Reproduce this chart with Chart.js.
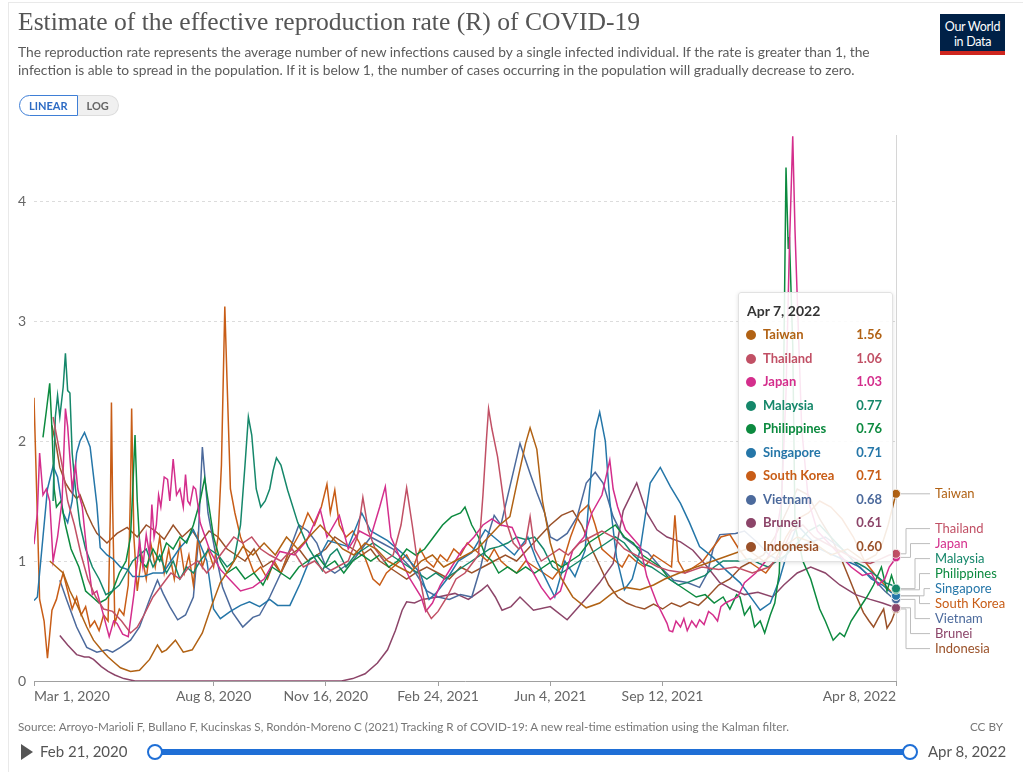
<!DOCTYPE html>
<html><head><meta charset="utf-8">
<script src="https://cdn.jsdelivr.net/npm/chart.js@4.4.1/dist/chart.umd.min.js"></script>
<style>
html,body{margin:0;padding:0;background:#fff;}
body{width:1023px;height:772px;position:relative;overflow:hidden;font-family:Lato,"Noto Sans",sans-serif;}
#frame{position:absolute;left:8px;top:2px;width:1040px;height:800px;border:1px solid #e9e9e9;}
#c{position:absolute;left:0;top:0;}
.title{position:absolute;left:18px;top:7px;font-family:"Liberation Serif",serif;font-size:25.6px;color:#555;white-space:nowrap;}
.sub{position:absolute;left:18px;top:43px;font-size:13.8px;line-height:18px;color:#5b5b5b;width:880px;}
.toggle{position:absolute;left:19px;top:95px;height:21px;display:flex;font-size:11px;font-weight:bold;}
.lin{border:1px solid #3f7fd6;border-radius:11px 0 0 11px;color:#2d6bc4;padding:0 9px;line-height:19px;background:#fff;}
.log{border:1px solid #ddd;border-left:none;border-radius:0 11px 11px 0;background:#f0f0f0;color:#666;padding:0 9px;line-height:19px;}
.logo{position:absolute;left:940px;top:14px;width:65px;height:41px;background:#002147;color:#fff;text-align:center;font-size:12.5px;line-height:15px;padding-top:5px;box-sizing:border-box;border-bottom:4px solid #ce261e;letter-spacing:-0.3px;}
.src{position:absolute;left:18px;top:719px;font-size:11.7px;color:#777;white-space:nowrap;}
.cc{position:absolute;right:20px;top:719px;font-size:11.7px;color:#777;}
.play{position:absolute;left:21px;top:744px;width:0;height:0;border-left:12px solid #555;border-top:8px solid transparent;border-bottom:8px solid transparent;}
.tl{position:absolute;top:742px;font-size:15px;color:#555;white-space:nowrap;}
.track{position:absolute;left:155px;top:749px;width:755px;height:6px;background:#1f6fd6;border-radius:3px;}
.handle{position:absolute;top:744px;width:16px;height:16px;box-sizing:border-box;border:2px solid #1f6fd6;background:#fff;border-radius:50%;}
#tip{position:absolute;left:738px;top:292px;width:155px;height:270px;box-sizing:border-box;background:rgba(255,255,255,0.88);border:1px solid #e2e2e2;border-radius:3px;box-shadow:0 1px 4px rgba(0,0,0,0.12);}
#tip .hd{position:absolute;left:8px;top:9px;font-size:14px;font-weight:bold;color:#333;}
#tip .row{position:absolute;left:0;width:100%;height:20px;font-size:13px;font-weight:bold;}
#tip .dot{position:absolute;left:7px;top:5px;width:10px;height:10px;border-radius:50%;}
#tip .nm{position:absolute;left:24px;top:1px;}
#tip .vl{position:absolute;right:10px;top:1px;}
</style></head>
<body>
<div id="frame"></div>
<canvas id="c" width="1023" height="772"></canvas>
<div class="title">Estimate of the effective reproduction rate (R) of COVID-19</div>
<div class="sub">The reproduction rate represents the average number of new infections caused by a single infected individual. If the rate is greater than 1, the infection is able to spread in the population. If it is below 1, the number of cases occurring in the population will gradually decrease to zero.</div>
<div class="toggle"><span class="lin">LINEAR</span><span class="log">LOG</span></div>
<div class="logo">Our World<br>in Data</div>
<div class="src">Source: Arroyo-Marioli F, Bullano F, Kucinskas S, Rondón-Moreno C (2021) Tracking R of COVID-19: A new real-time estimation using the Kalman filter.</div>
<div class="cc">CC BY</div>
<div class="play"></div>
<div class="tl" style="left:40px">Feb 21, 2020</div>
<div class="track"></div>
<div class="handle" style="left:147px"></div>
<div class="handle" style="left:902px"></div>
<div class="tl" style="left:928px">Apr 8, 2022</div>
<div id="tip"></div>
<script>
// Days counted from Mar 1, 2020
const xTickDays = [0, 160, 260, 360, 460, 560, 768];
const xTickLabels = ["Mar 1, 2020", "Aug 8, 2020", "Nov 16, 2020", "Feb 24, 2021", "Jun 4, 2021", "Sep 12, 2021", "Apr 8, 2022"];
const yTicks = [0, 1, 2, 3, 4];
const tooltipDate = "Apr 7, 2022";
const countries = ["Taiwan", "Thailand", "Japan", "Malaysia", "Philippines", "Singapore", "South Korea", "Vietnam", "Brunei", "Indonesia"];

const taiwan = [[14,1.0],[20,0.95],[26,0.9],[32,0.75],[39,0.62],[47,0.45],[53,0.34],[60,0.26],[66,0.2],[72,0.15],[77,0.11],[86,0.08],[94,0.09],[103,0.18],[110,0.3],[114,0.24],[118,0.26],[126,0.34],[133,0.24],[141,0.26],[150,0.4],[158,0.62],[166,0.82],[175,0.95],[186,1.12],[195,1.05],[205,1.15],[215,1.05],[225,1.2],[235,1.1],[245,1.2],[255,1.3],[265,1.2],[275,1.1],[285,1.05],[295,1.15],[305,1.1],[315,1.0],[325,0.95],[335,0.9],[345,1.0],[355,1.05],[365,0.95],[375,1.0],[385,1.05],[395,1.1],[405,1.2],[415,1.3],[424,1.37],[431,1.68],[438,1.98],[442,2.11],[448,1.93],[453,1.5],[460,1.15],[469,0.87],[480,0.7],[492,0.61],[504,0.65],[515,0.73],[527,0.78],[540,0.76],[552,0.8],[562,0.85],[575,0.9],[590,0.95],[605,1.0],[620,1.05],[635,1.1],[650,1.0],[665,1.1],[680,1.2],[695,1.15],[710,1.05],[725,1.1],[740,1.0],[750,1.05],[756,1.15],[761,1.3],[765,1.45],[768,1.56]];
const thailand = [[17,2.2],[20,2.05],[25,1.8],[30,1.5],[36,1.3],[42,1.05],[48,0.85],[55,0.7],[62,0.6],[70,0.58],[78,0.5],[86,0.4],[92,0.45],[98,0.55],[106,0.7],[114,0.8],[122,0.9],[130,0.85],[138,0.95],[146,1.0],[154,0.9],[162,1.0],[170,1.1],[178,1.2],[186,1.15],[194,1.2],[202,1.1],[210,1.05],[220,1.0],[230,1.1],[240,0.95],[250,1.0],[260,0.9],[270,0.95],[280,1.0],[288,1.2],[293,1.53],[298,1.25],[304,1.1],[312,1.0],[320,1.05],[327,1.3],[332,1.61],[337,1.3],[343,0.9],[349,0.6],[354,0.52],[360,0.58],[368,0.7],[376,0.85],[384,0.9],[392,1.0],[396,1.05],[400,1.55],[403,2.0],[405,2.27],[408,2.1],[413,1.87],[418,1.53],[421,1.32],[427,1.15],[432,1.1],[438,1.15],[442,1.37],[446,1.1],[452,1.0],[460,1.05],[468,1.1],[476,1.05],[486,1.15],[496,1.2],[506,1.25],[516,1.2],[526,1.1],[536,1.05],[546,1.0],[556,0.95],[566,0.92],[580,0.9],[595,0.95],[610,0.93],[625,0.95],[640,0.9],[655,0.95],[665,1.05],[675,1.25],[685,1.3],[695,1.2],[705,1.15],[715,1.1],[725,1.05],[735,1.0],[745,0.98],[755,1.02],[762,1.05],[768,1.06]];
const japan = [[0,1.14],[3,1.4],[5,1.9],[8,1.55],[11,1.6],[14,1.5],[17,1.0],[21,1.2],[25,1.5],[28,2.27],[30,2.12],[34,1.6],[37,1.8],[39,1.6],[43,1.45],[47,1.08],[52,0.72],[56,0.75],[61,0.58],[67,0.37],[71,0.5],[74,0.48],[79,0.39],[84,0.37],[89,0.72],[94,1.17],[97,0.95],[100,1.22],[103,1.05],[105,1.47],[107,1.2],[109,1.3],[111,1.55],[113,1.45],[116,1.7],[119,1.68],[121,1.5],[124,1.85],[127,1.55],[130,1.6],[133,1.45],[135,1.72],[137,1.5],[139,1.47],[142,1.62],[144,1.6],[146,1.47],[148,1.32],[157,1.08],[166,0.93],[175,0.84],[184,0.75],[195,0.78],[205,0.85],[219,1.08],[232,1.05],[243,1.17],[255,1.43],[261,1.2],[272,1.38],[280,1.1],[290,1.25],[300,1.2],[308,1.45],[313,1.62],[318,1.2],[325,1.05],[335,0.85],[345,0.7],[349,0.58],[355,0.65],[362,0.8],[372,0.95],[382,1.1],[392,1.2],[400,1.3],[408,1.35],[416,1.3],[426,1.28],[440,0.98],[452,0.78],[460,0.68],[469,0.75],[480,1.09],[490,1.2],[497,1.4],[506,1.55],[513,1.84],[516,1.6],[520,1.45],[527,1.26],[540,1.12],[546,0.87],[555,0.65],[564,0.48],[566,0.42],[569,0.41],[572,0.5],[576,0.45],[579,0.52],[582,0.42],[586,0.5],[590,0.45],[593,0.51],[597,0.47],[601,0.58],[605,0.55],[609,0.5],[612,0.62],[616,0.65],[627,0.7],[633,0.82],[643,0.9],[652,1.0],[660,1.15],[666,1.5],[670,2.4],[673,3.6],[676,4.54],[678,3.76],[680,3.2],[684,2.1],[690,1.5],[698,1.25],[708,1.15],[718,1.05],[728,0.95],[738,0.88],[746,0.9],[752,0.8],[758,0.85],[762,0.95],[766,1.0],[768,1.03]];
const malaysia = [[17,1.5],[19,2.2],[21,2.38],[23,2.2],[26,2.45],[28,2.73],[30,2.42],[32,2.4],[34,1.9],[37,1.6],[41,1.3],[46,1.1],[52,0.95],[58,0.85],[64,0.72],[70,0.75],[76,0.8],[82,0.9],[88,1.0],[94,1.05],[100,1.1],[106,0.95],[112,1.05],[118,0.9],[124,1.0],[130,0.85],[136,0.95],[142,0.9],[148,1.0],[156,1.1],[164,1.05],[172,0.95],[178,1.0],[184,1.3],[188,1.8],[191,2.2],[194,2.05],[198,1.6],[202,1.45],[206,1.5],[210,1.6],[213,1.75],[216,1.86],[220,1.8],[226,1.59],[235,1.32],[244,1.12],[257,0.92],[264,1.05],[270,1.1],[278,0.95],[286,1.05],[294,1.1],[302,1.15],[310,1.1],[318,1.05],[326,1.0],[334,0.95],[342,0.9],[350,0.85],[358,0.9],[366,0.85],[374,0.9],[382,0.95],[390,1.0],[398,1.05],[406,1.1],[414,1.12],[422,1.15],[430,1.2],[438,1.18],[446,1.2],[454,1.1],[462,0.95],[470,0.9],[478,0.95],[486,1.0],[494,1.05],[502,1.1],[510,1.15],[518,1.2],[526,1.15],[534,1.05],[542,0.98],[550,0.95],[558,0.9],[566,0.85],[574,0.8],[582,0.82],[590,0.85],[598,0.88],[606,0.95],[614,1.0],[622,1.0],[630,1.0],[638,1.02],[646,0.98],[654,0.95],[662,1.0],[670,1.05],[680,1.15],[690,1.25],[700,1.3],[710,1.2],[720,1.1],[730,1.0],[740,0.95],[750,0.88],[758,0.82],[764,0.8],[768,0.77]];
const philippines = [[8,2.03],[11,2.25],[14,2.48],[16,2.1],[18,1.6],[20,1.45],[24,1.5],[28,1.3],[33,1.1],[40,0.95],[46,0.75],[52,0.7],[58,0.65],[64,0.68],[70,0.75],[76,0.9],[82,1.0],[86,1.2],[88,1.6],[90,2.05],[92,1.5],[95,1.0],[100,0.95],[106,1.1],[112,1.0],[118,1.15],[124,1.1],[130,1.2],[136,1.15],[142,1.3],[148,1.5],[152,1.69],[156,1.45],[160,1.2],[166,1.0],[172,0.9],[180,0.95],[188,0.85],[196,0.9],[204,0.8],[212,0.95],[220,0.9],[228,0.85],[236,0.95],[244,1.0],[252,1.05],[260,0.95],[268,1.0],[276,0.9],[284,1.0],[292,1.05],[300,1.0],[308,1.05],[316,0.95],[324,1.0],[332,1.1],[340,1.05],[348,1.1],[356,1.2],[364,1.3],[372,1.37],[380,1.4],[384,1.45],[390,1.3],[396,1.2],[402,1.05],[408,1.0],[414,0.9],[422,0.95],[430,0.9],[438,0.95],[446,0.9],[454,0.95],[462,1.0],[470,0.95],[478,1.0],[486,1.05],[494,1.15],[502,1.2],[510,1.25],[518,1.3],[526,1.2],[534,1.15],[542,1.05],[550,1.0],[558,0.95],[566,0.85],[574,0.8],[582,0.75],[590,0.7],[598,0.72],[606,0.65],[614,0.7],[620,0.6],[626,0.72],[629,0.7],[633,0.55],[638,0.62],[642,0.45],[647,0.5],[651,0.4],[656,0.55],[660,0.65],[664,0.9],[667,1.8],[670,4.28],[672,3.6],[673,3.7],[676,2.8],[678,1.3],[685,1.0],[692,0.85],[700,0.6],[705,0.5],[712,0.34],[718,0.4],[722,0.37],[728,0.5],[735,0.6],[742,0.7],[748,0.8],[755,0.95],[760,0.75],[764,0.88],[768,0.76]];
const singapore = [[0,0.67],[3,0.7],[8,1.2],[12,1.6],[17,1.79],[21,1.7],[26,1.4],[30,1.32],[34,1.5],[38,1.9],[41,2.0],[45,2.07],[50,1.95],[56,1.47],[59,1.11],[65,1.05],[70,1.02],[77,0.95],[83,0.93],[88,0.87],[97,0.87],[106,0.9],[115,0.9],[122,1.0],[130,1.11],[136,1.17],[142,1.26],[148,1.14],[154,1.0],[160,0.6],[166,0.52],[175,0.58],[184,0.63],[192,0.66],[201,0.62],[210,0.68],[217,0.63],[228,0.63],[237,0.81],[246,1.02],[255,1.05],[262,1.17],[280,1.12],[292,1.4],[300,1.25],[315,1.17],[330,1.05],[344,0.9],[352,0.68],[358,0.73],[368,0.85],[378,1.0],[390,1.07],[402,1.26],[416,1.15],[428,1.05],[440,1.2],[448,1.0],[455,0.87],[464,0.7],[473,1.0],[482,0.87],[491,1.09],[495,1.59],[500,2.09],[504,2.24],[509,2.0],[513,1.5],[519,1.03],[526,0.76],[533,0.85],[540,1.09],[545,1.4],[549,1.65],[558,1.78],[567,1.62],[576,1.48],[584,1.32],[593,1.12],[605,1.03],[617,0.92],[629,0.82],[640,0.68],[647,0.59],[656,0.65],[664,0.84],[672,1.1],[680,1.3],[690,1.2],[700,1.1],[712,1.05],[724,1.0],[736,0.95],[746,0.85],[756,0.8],[762,0.75],[768,0.71]];
const southKorea = [[0,2.36],[3,1.37],[5,0.68],[9,0.5],[12,0.19],[16,0.59],[20,0.68],[23,0.8],[26,0.9],[30,0.75],[34,0.6],[38,0.7],[42,0.55],[46,0.62],[50,0.45],[54,0.5],[58,0.42],[62,0.55],[66,0.5],[68,1.4],[69,2.32],[70,1.5],[72,0.48],[76,0.6],[80,0.55],[84,0.8],[86,1.6],[87,2.27],[89,1.2],[92,0.75],[96,1.05],[100,0.85],[104,1.15],[108,0.95],[112,1.2],[116,0.9],[120,1.1],[125,0.85],[130,1.15],[134,0.9],[138,1.05],[142,0.8],[146,1.2],[150,0.95],[155,1.1],[160,0.95],[164,1.2],[167,1.8],[170,3.12],[172,2.5],[175,1.6],[179,1.4],[184,1.2],[190,1.05],[196,0.9],[202,0.95],[208,0.85],[214,1.0],[220,0.9],[226,1.05],[232,1.15],[238,1.25],[244,1.4],[250,1.3],[256,1.45],[261,1.64],[264,1.4],[268,1.59],[272,1.3],[278,1.2],[284,1.25],[290,1.15],[296,1.0],[302,0.85],[308,0.8],[314,0.9],[320,0.95],[326,1.0],[332,1.05],[338,0.95],[344,1.1],[350,1.0],[356,0.95],[362,1.05],[368,1.0],[374,1.1],[380,1.05],[386,1.15],[392,1.1],[398,1.05],[404,1.0],[410,1.1],[416,1.0],[422,0.95],[430,0.9],[438,1.0],[446,0.95],[454,0.9],[462,0.85],[470,0.95],[478,1.2],[486,1.4],[494,1.47],[500,1.3],[506,1.1],[512,1.05],[518,1.0],[524,0.95],[530,1.05],[536,1.0],[544,0.95],[552,1.05],[560,1.0],[568,0.95],[571,1.38],[574,1.0],[580,0.9],[588,0.95],[596,1.0],[604,1.1],[612,1.2],[620,1.22],[628,1.1],[636,1.0],[644,0.95],[652,0.9],[660,1.0],[670,1.2],[680,1.35],[690,1.4],[700,1.5],[710,1.45],[720,1.35],[730,1.2],[740,1.0],[750,0.88],[758,0.8],[764,0.74],[768,0.71]];
const vietnam = [[23,0.84],[29,0.68],[38,0.45],[47,0.28],[56,0.24],[65,0.26],[70,0.24],[77,0.28],[86,0.34],[94,0.45],[103,0.68],[110,0.84],[115,0.73],[121,0.62],[128,0.51],[135,0.55],[142,0.7],[146,1.12],[150,1.95],[155,1.4],[161,1.1],[168,0.78],[177,0.57],[186,0.45],[195,0.53],[201,0.55],[210,0.7],[220,0.9],[228,1.1],[236,1.3],[244,1.25],[252,1.15],[260,0.95],[268,0.9],[276,0.95],[284,1.0],[292,1.1],[300,1.2],[310,1.15],[320,1.1],[330,1.0],[340,0.9],[350,0.75],[360,0.7],[370,0.68],[380,0.72],[390,0.7],[398,0.95],[404,1.2],[410,1.38],[416,1.3],[424,1.62],[433,1.98],[442,1.73],[448,1.57],[455,1.4],[460,1.2],[466,1.17],[475,1.23],[484,1.37],[492,1.65],[500,1.74],[507,1.65],[516,1.37],[525,1.2],[535,1.13],[547,1.07],[558,0.95],[570,0.84],[582,0.82],[593,0.78],[600,0.9],[605,1.1],[611,1.22],[625,1.23],[633,1.25],[645,1.15],[655,1.05],[665,1.0],[675,1.1],[690,1.15],[705,1.2],[720,1.1],[735,0.95],[748,0.85],[758,0.75],[764,0.7],[768,0.68]];
const brunei = [[23,0.38],[30,0.3],[38,0.22],[45,0.2],[49,0.2],[53,0.18],[60,0.12],[66,0.08],[72,0.05],[80,0.02],[90,0.0],[274,0.0],[284,0.02],[295,0.06],[306,0.15],[315,0.26],[322,0.42],[328,0.59],[332,0.66],[339,0.65],[346,0.68],[360,0.7],[375,0.73],[387,0.68],[399,0.76],[404,0.8],[411,0.7],[417,0.59],[425,0.62],[433,0.7],[445,0.59],[460,0.62],[475,0.51],[493,0.7],[504,0.82],[516,0.98],[525,1.42],[537,1.65],[546,1.4],[555,1.26],[564,1.2],[576,1.16],[587,1.09],[600,0.95],[611,0.82],[623,0.76],[633,0.72],[645,0.74],[658,0.7],[668,0.8],[680,0.9],[692,0.95],[705,0.9],[718,0.8],[732,0.72],[745,0.68],[756,0.65],[768,0.61]];
const indonesia = [[16,2.13],[20,1.95],[23,1.78],[28,1.65],[32,1.59],[38,1.52],[41,1.55],[47,1.4],[52,1.3],[56,1.23],[65,1.15],[74,1.23],[83,1.28],[92,1.2],[100,1.3],[108,1.25],[116,1.18],[124,1.3],[132,1.2],[140,1.27],[148,1.15],[156,1.25],[164,1.2],[172,1.1],[180,1.05],[188,1.0],[196,1.1],[204,0.95],[212,1.0],[220,0.9],[228,1.05],[236,1.1],[244,1.0],[252,1.05],[260,1.1],[268,1.2],[276,1.15],[284,1.1],[292,1.05],[300,1.1],[308,1.0],[316,0.95],[324,0.9],[332,0.85],[340,0.9],[350,0.95],[360,0.9],[370,0.85],[380,0.95],[390,0.9],[400,0.95],[410,1.0],[420,1.05],[430,1.0],[440,1.1],[450,1.2],[460,1.3],[470,1.38],[480,1.42],[488,1.3],[496,1.12],[504,0.96],[512,0.8],[520,0.7],[528,0.65],[536,0.62],[544,0.6],[552,0.64],[560,0.6],[568,0.65],[576,0.62],[584,0.66],[592,0.63],[600,0.7],[610,0.8],[620,0.85],[630,0.95],[640,1.0],[650,1.05],[660,1.2],[670,1.4],[680,1.6],[690,1.55],[700,1.35],[710,1.2],[720,1.0],[727,0.84],[733,0.7],[739,0.57],[744,0.5],[748,0.45],[752,0.52],[757,0.6],[760,0.44],[764,0.5],[768,0.6]];

const seriesData = [taiwan, thailand, japan, malaysia, philippines, singapore, southKorea, vietnam, brunei, indonesia];
const seriesColors = ["#B16214", "#C15065", "#D42E8C", "#15876A", "#0C8A3F", "#2576A8", "#C85D17", "#4C6A9C", "#8C4569", "#9A5129"];

const endDay = xTickDays[xTickDays.length - 1];

const overlay = {
  id: 'overlay',
  beforeDatasetsDraw(chart) {
    const {ctx, chartArea, scales: {x}} = chart;
    ctx.save();
    const xe = Math.round(x.getPixelForValue(endDay)) + 0.5;
    ctx.strokeStyle = '#d6d6d6'; ctx.lineWidth = 1;
    ctx.beginPath(); ctx.moveTo(xe, chartArea.top); ctx.lineTo(xe, chartArea.bottom); ctx.stroke();
    ctx.restore();
  },
  afterDatasetsDraw(chart) {
    const {ctx, chartArea, scales: {x, y}} = chart;
    ctx.save();
    ctx.font = '14px Lato';
    ctx.fillStyle = '#666';
    ctx.textBaseline = 'middle';
    xTickDays.forEach((d, i) => {
      const px = x.getPixelForValue(d);
      ctx.textAlign = i === 0 ? 'left' : (i === xTickDays.length - 1 ? 'right' : 'center');
      ctx.fillText(xTickLabels[i], px, chartArea.bottom + 15);
    });
    const gap = 15;
    const items = countries.map((name, i) => {
      const arr = seriesData[i];
      const v = arr[arr.length - 1][1];
      return {name, color: seriesColors[i], py: y.getPixelForValue(v), px: x.getPixelForValue(arr[arr.length - 1][0])};
    }).sort((a, b) => a.py - b.py);
    let groups = items.map(it => ({items: [it]}));
    const center = g => g.items.reduce((s, it) => s + it.py, 0) / g.items.length;
    let changed = true;
    while (changed) {
      changed = false;
      for (let i = 0; i < groups.length - 1; i++) {
        const a = groups[i], b = groups[i + 1];
        const aBottom = center(a) + (a.items.length - 1) * gap / 2;
        const bTop = center(b) - (b.items.length - 1) * gap / 2;
        if (bTop - aBottom < gap) {
          groups.splice(i, 2, {items: a.items.concat(b.items)});
          changed = true; break;
        }
      }
    }
    const labelX = chartArea.right + 39;
    groups.forEach(g => {
      const c = center(g);
      const n = g.items.length;
      g.items.forEach((it, k) => {
        it.ly = c + (k - (n - 1) / 2) * gap;
        const off = n > 1 ? Math.min(k, n - 1 - k) : 0;
        it.elbow = chartArea.right + 10 + off * 4.5;
      });
    });
    ctx.strokeStyle = '#bdbdbd'; ctx.lineWidth = 1;
    items.forEach(it => {
      ctx.beginPath();
      ctx.moveTo(it.px, it.py);
      if (Math.abs(it.ly - it.py) < 1) {
        ctx.lineTo(labelX - 5, it.py);
      } else {
        ctx.lineTo(it.elbow, it.py);
        ctx.lineTo(it.elbow, it.ly);
        ctx.lineTo(labelX - 5, it.ly);
      }
      ctx.stroke();
    });
    items.slice().reverse().forEach(it => {
      ctx.beginPath();
      ctx.arc(it.px, it.py, 4.5, 0, Math.PI * 2);
      ctx.fillStyle = it.color; ctx.fill();
      ctx.strokeStyle = 'rgba(255,255,255,0.8)'; ctx.lineWidth = 1; ctx.stroke();
    });
    ctx.font = '13px Lato';
    ctx.textAlign = 'left';
    items.forEach(it => { ctx.fillStyle = it.color; ctx.fillText(it.name, labelX, it.ly); });
    ctx.restore();
  }
};

new Chart(document.getElementById('c'), {
  type: 'line',
  data: {
    datasets: countries.map((name, i) => ({
      label: name,
      data: seriesData[i].map(([d, v]) => ({x: d, y: v})),
      borderColor: seriesColors[i],
      borderWidth: 1.5,
      pointRadius: 0,
      fill: false,
      tension: 0
    }))
  },
  options: {
    responsive: false,
    animation: false,
    events: [],
    layout: {padding: {left: 0, top: 135, right: 127, bottom: 61}},
    plugins: {legend: {display: false}, tooltip: {enabled: false}},
    scales: {
      x: {
        type: 'linear', min: 0, max: endDay,
        afterFit(s) { s.height = 30; },
        afterBuildTicks(s) { s.ticks = xTickDays.map(v => ({value: v})); },
        ticks: {display: false},
        grid: {drawOnChartArea: false, drawTicks: true, tickLength: 5, color: '#a0a0a0'},
        border: {display: true, color: '#a0a0a0', width: 1}
      },
      y: {
        min: 0, max: 4.55,
        afterFit(s) { s.width = 34; },
        afterBuildTicks(s) { s.ticks = yTicks.map(v => ({value: v})); },
        ticks: {font: {family: 'Lato', size: 14}, color: '#666', padding: 8, callback: v => String(v)},
        grid: {color: c => (c.tick && c.tick.value === 0) ? 'rgba(0,0,0,0)' : '#dcdcdc', drawTicks: false, lineWidth: 1},
        border: {display: false, dash: [3, 3]}
      }
    }
  },
  plugins: [overlay]
});

const tip = document.getElementById('tip');
let html = '<div class="hd">' + tooltipDate + '</div>';
countries.forEach((name, i) => {
  const arr = seriesData[i];
  const v = arr[arr.length - 1][1];
  const top = 32 + i * 23.5;
  html += '<div class="row" style="top:' + top + 'px;color:' + seriesColors[i] + '"><span class="dot" style="background:' + seriesColors[i] + '"></span><span class="nm">' + name + '</span><span class="vl">' + v.toFixed(2) + '</span></div>';
});
tip.innerHTML = html;
</script>
</body></html>
